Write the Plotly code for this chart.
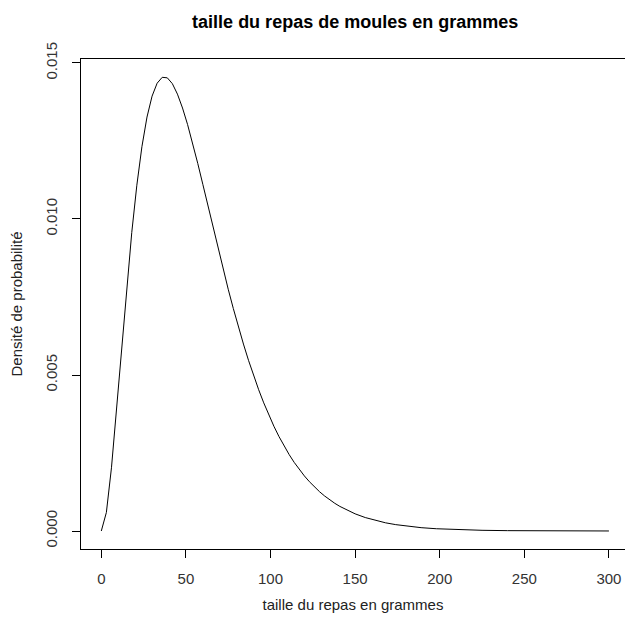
import plotly.graph_objects as go

# Meal size (g) and probability density
taille = [0, 3, 6, 9, 12, 15, 18, 21, 24, 27, 30, 33, 36, 39, 42, 45, 48, 51, 54, 57,
          60, 63, 66, 69, 72, 75, 78, 81, 84, 87, 90, 93, 96, 99, 102, 105, 108, 111,
          114, 117, 120, 123, 126, 129, 132, 135, 138, 141, 144, 147, 150, 156, 162,
          168, 174, 180, 189, 198, 210, 225, 240, 255, 270, 285, 300]
densite = [0.0, 0.000595, 0.002026, 0.003880, 0.005870, 0.007804, 0.009566, 0.011082,
           0.012317, 0.013267, 0.013938, 0.014352, 0.014541, 0.014524, 0.014337,
           0.014002, 0.013557, 0.013025, 0.012428, 0.011782, 0.011110, 0.010424,
           0.009737, 0.009056, 0.008390, 0.007749, 0.007134, 0.006546, 0.005992,
           0.005470, 0.004982, 0.004528, 0.004107, 0.003714, 0.003357, 0.003027,
           0.002726, 0.002451, 0.002199, 0.001972, 0.001766, 0.001579, 0.001410,
           0.001258, 0.001121, 0.000998, 0.000887, 0.000788, 0.000700, 0.000621,
           0.000550, 0.000431, 0.000336, 0.000262, 0.000204, 0.000158, 0.000107,
           0.0000725, 0.0000428, 0.0000219, 0.0000111, 0.0000055, 0.0000027,
           0.0000013, 0.0000006]

x_ticks = [0, 50, 100, 150, 200, 250, 300]
y_ticks = [0.000, 0.005, 0.010, 0.015]

FONT = "Liberation Sans, Arial, sans-serif"

fig = go.Figure()
fig.add_trace(go.Scatter(x=taille, y=densite, mode="lines",
                         line=dict(color="black", width=1), showlegend=False))

fig.update_layout(
    width=625, height=628,
    margin=dict(l=81, r=0, t=59, b=79),
    paper_bgcolor="white", plot_bgcolor="white",
    font=dict(family=FONT, size=15, color="#222"),
    title=dict(text="<b>taille du repas de moules en grammes</b>",
               x=0.504, xref="paper", xanchor="center",
               y=1 - 22 / 628, yanchor="middle",
               font=dict(family=FONT, size=18, color="black")),
)

fig.update_xaxes(
    range=[-12, 309.5], tickvals=x_ticks, ticktext=[str(v) for v in x_ticks],
    showgrid=False, zeroline=False, showline=True, linecolor="black",
    linewidth=1, mirror=True, ticks="outside", ticklen=8, tickcolor="black",
    ticklabelstandoff=8, tickfont=dict(size=15, color="#333"),
    title=dict(text="taille du repas en grammes", standoff=13,
               font=dict(size=15, color="#222")),
)
fig.update_yaxes(
    range=[-0.000577, 0.015128], tickvals=y_ticks,
    ticktext=[f"{v:.3f}" for v in y_ticks], tickangle=-90,
    showgrid=False, zeroline=False, showline=True, linecolor="black",
    linewidth=1, mirror=False, ticks="outside", ticklen=8, tickcolor="black",
    ticklabelstandoff=9, tickfont=dict(size=15, color="#333"),
    title=dict(text="Densité de probabilité", standoff=16,
               font=dict(size=15, color="#222")),
)

fig.write_html("out.html")
